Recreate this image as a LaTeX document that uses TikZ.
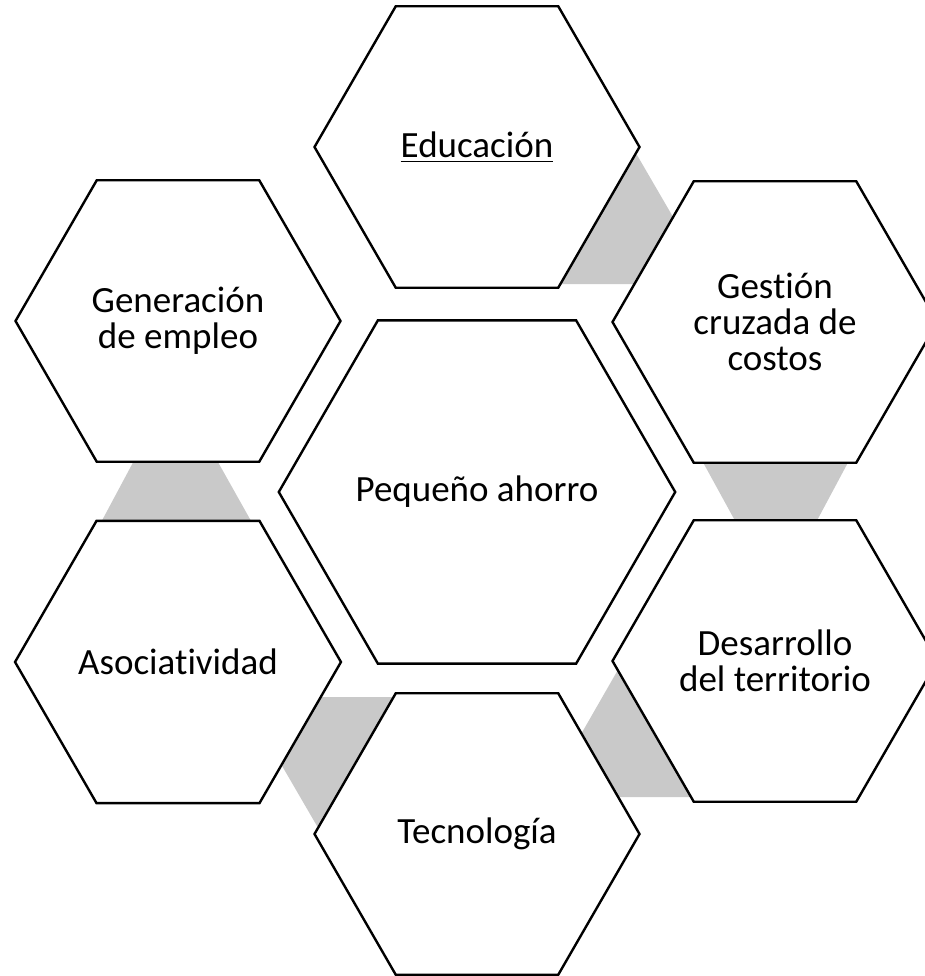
\documentclass[tikz,border=0pt]{standalone}
\usepackage{fontspec}
\setmainfont{Carlito}[Ligatures={NoCommon,NoContextual},Contextuals=NoAlternate]
\usetikzlibrary{shapes.geometric}
\definecolor{linkgray}{RGB}{201,201,201}
\newsavebox{\ulbox}
\newcommand{\myuline}[1]{\sbox{\ulbox}{#1}\rlap{\rule[-5pt]{\wd\ulbox}{1.8pt}}\usebox{\ulbox}}
\begin{document}
\begin{tikzpicture}[x=1pt,y=-1pt,
  hexa/.style={regular polygon, regular polygon sides=6, draw=black, line width=2.4pt,
    fill=white, minimum size=325pt, inner sep=0pt, align=center,
    font=\fontsize{37}{36}\selectfont},
  link/.style={fill=linkgray, draw=none}]
\useasboundingbox (0,0) rectangle (925,976);
% gray links (behind hexagons)
\fill[link] (560,155) -- (637,155) -- (712,284) -- (540,284) -- cycle;
\fill[link] (699,455) -- (852,455) -- (813,528) -- (739,528) -- cycle;
\fill[link] (619,668) -- (720,668) -- (720,797) -- (545,797) -- cycle;
\fill[link] (394,826) -- (317,826) -- (242,697) -- (414,697) -- cycle;
\fill[link] (98,528) -- (255,528) -- (214,455) -- (137,455) -- cycle;
% hexagons
\node[hexa] (edu) at (477,147) {\myuline{Educación}};
\node[hexa] (gen) at (178,321) {Generación\\de empleo};
\node[hexa] (ges) at (775,322) {Gestión\\cruzada de\\costos};
\node[hexa, minimum size=392pt] (peq) at (477,492) {Pequeño ahorro};
\node[hexa] (aso) at (178,662) {Asociatividad};
\node[hexa] (des) at (775,661) {Desarrollo\\del territorio};
\node[hexa] (tec) at (477,834) {Tecnología};
\end{tikzpicture}
\end{document}
